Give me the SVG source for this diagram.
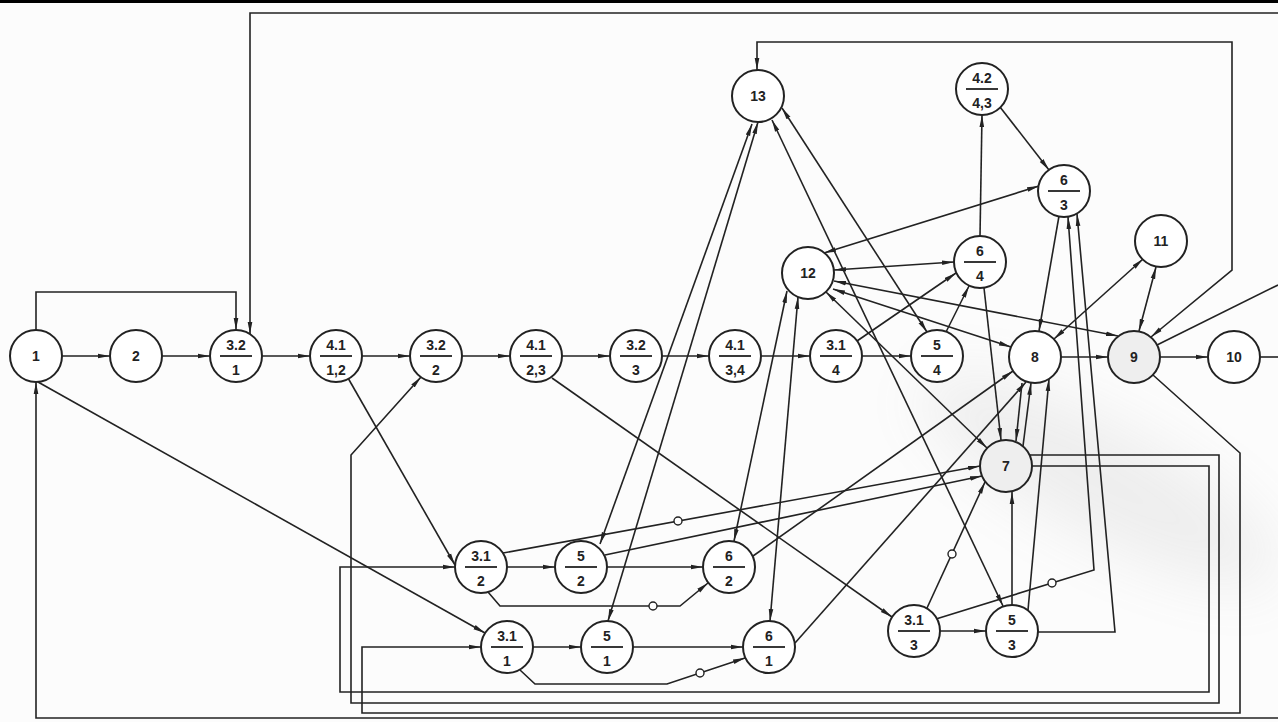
<svg xmlns="http://www.w3.org/2000/svg" width="1278" height="722" viewBox="0 0 1278 722">
<defs>
<marker id="a" viewBox="0 0 12 6" refX="12" refY="3" markerWidth="12" markerHeight="6" markerUnits="userSpaceOnUse" orient="auto-start-reverse"><path d="M0,0.7 L12,3 L0,5.3 z" fill="#222"/></marker>
<filter id="blur" x="-50%" y="-50%" width="200%" height="200%"><feGaussianBlur stdDeviation="30"/></filter>
</defs>
<style>
.e{fill:none;stroke:#222;stroke-width:1.6;marker-end:url(#a)}
.b{fill:none;stroke:#222;stroke-width:1.6;marker-start:url(#a);marker-end:url(#a)}
.p{fill:none;stroke:#222;stroke-width:1.6}
.o{fill:#fff;stroke:#222;stroke-width:1.4}
.n circle{fill:#fff;stroke:#222;stroke-width:2}
.n line{stroke:#222;stroke-width:1.8}
.n text{font-family:"Liberation Sans","DejaVu Sans",sans-serif;font-weight:bold;font-size:14px;fill:#222;text-anchor:middle}
</style>
<rect width="1278" height="722" fill="#fcfcfc"/>
<rect x="0" y="0" width="1278" height="3" fill="#000"/>
<g id="shading" opacity="0.12">
<ellipse cx="1100" cy="480" rx="200" ry="55" transform="rotate(28 1100 480)" fill="#888" filter="url(#blur)"/>
</g>
<g id="connectors">
<path class="e" d="M36,330 V292 H236 V330"/>
<path class="e" d="M1278,13 H250 V334"/>
<path class="e" d="M1278,718 H36 V382"/>
<line class="e" x1="62" y1="356" x2="110" y2="356"/>
<line class="e" x1="162" y1="356" x2="210" y2="356"/>
<line class="e" x1="262" y1="356" x2="310" y2="356"/>
<line class="e" x1="362" y1="356" x2="410" y2="356"/>
<line class="e" x1="462" y1="356" x2="510" y2="356"/>
<line class="e" x1="562" y1="356" x2="610" y2="356"/>
<line class="e" x1="662" y1="356" x2="709" y2="356"/>
<line class="e" x1="761" y1="356" x2="810" y2="356"/>
<line class="e" x1="862" y1="356" x2="911" y2="356"/>
<line class="e" x1="1061" y1="357" x2="1108" y2="357"/>
<line class="e" x1="1160" y1="357" x2="1208" y2="357"/>
<line class="p" x1="1260" y1="357" x2="1278" y2="357"/>
<line class="e" x1="38" y1="382" x2="485" y2="633"/>
<line class="e" x1="348" y1="378" x2="455" y2="565"/>
<line class="e" x1="552" y1="378" x2="892" y2="617"/>
<line class="e" x1="507" y1="567" x2="555" y2="567"/>
<line class="e" x1="607" y1="567" x2="703" y2="567"/>
<line class="e" x1="533" y1="647" x2="581" y2="647"/>
<line class="e" x1="633" y1="647" x2="743" y2="647"/>
<line class="e" x1="940" y1="631" x2="986" y2="631"/>
<path class="e" d="M488,592 L500,606 H680 L708,583"/>
<path class="e" d="M520,670 L535,684 H667 L745,658"/>
<line class="e" x1="503" y1="553" x2="980" y2="466"/>
<line class="e" x1="605" y1="555" x2="982" y2="476"/>
<line class="b" x1="600" y1="544" x2="752" y2="124"/>
<line class="b" x1="608" y1="621" x2="758" y2="122"/>
<line class="b" x1="734" y1="541" x2="787" y2="291"/>
<line class="b" x1="770" y1="621" x2="798" y2="297"/>
<line class="b" x1="782" y1="108" x2="927" y2="332"/>
<line class="b" x1="772" y1="120" x2="1003" y2="606"/>
<line class="b" x1="824" y1="253" x2="1039" y2="186"/>
<line class="b" x1="834" y1="270" x2="954" y2="262"/>
<line class="b" x1="834" y1="281" x2="1118" y2="336"/>
<line class="b" x1="833" y1="289" x2="1011" y2="347"/>
<line class="b" x1="826" y1="292" x2="987" y2="448"/>
<line class="e" x1="857" y1="341" x2="956" y2="273"/>
<line class="e" x1="946" y1="332" x2="969" y2="286"/>
<line class="e" x1="984" y1="288" x2="1001" y2="440"/>
<line class="e" x1="980" y1="236" x2="982" y2="115"/>
<line class="e" x1="1000" y1="107" x2="1049" y2="170"/>
<line class="e" x1="1059" y1="216" x2="1039" y2="331"/>
<path class="e" d="M936,619 L1094,570 L1068,217"/>
<path class="e" d="M1038,632 H1115 L1077,214"/>
<line class="b" x1="1054" y1="339" x2="1143" y2="259"/>
<line class="b" x1="1139" y1="331" x2="1156" y2="267"/>
<line class="p" x1="1157" y1="345" x2="1278" y2="285"/>
<path class="b" d="M1151,337 L1232,270 V42 H757 V70"/>
<path class="e" d="M1153,375 L1240,453 V713 H362 V647 H481"/>
<path class="e" d="M1030,455 H1219 V703 H351 V455 L421,377"/>
<path class="e" d="M1032,466 H1209 V692 H340 V567 H455"/>
<line class="e" x1="753" y1="556" x2="1013" y2="371"/>
<line class="e" x1="795" y1="643" x2="1026" y2="382"/>
<line class="e" x1="1022" y1="383" x2="1016" y2="441"/>
<line class="e" x1="1023" y1="446" x2="1031" y2="383"/>
<line class="e" x1="1028" y1="610" x2="1049" y2="379"/>
<line class="e" x1="927" y1="608" x2="985" y2="482"/>
<line class="e" x1="1012" y1="605" x2="1012" y2="492"/>
<circle class="o" cx="653" cy="606" r="4"/>
<circle class="o" cx="700" cy="673" r="4"/>
<circle class="o" cx="678" cy="521" r="4"/>
<circle class="o" cx="1052" cy="583" r="4"/>
<circle class="o" cx="952" cy="554" r="4"/>
</g>
<g id="n1" class="n"><circle cx="36" cy="356" r="26"/><text x="36" y="361">1</text></g>
<g id="n2" class="n"><circle cx="136" cy="356" r="26"/><text x="136" y="361">2</text></g>
<g id="n3-2-1" class="n"><circle cx="236" cy="356" r="26"/><text x="236" y="350">3.2</text><line x1="220" y1="356" x2="252" y2="356"/><text x="236" y="375">1</text></g>
<g id="n4-1-12" class="n"><circle cx="336" cy="356" r="26"/><text x="336" y="350">4.1</text><line x1="320" y1="356" x2="352" y2="356"/><text x="336" y="375">1,2</text></g>
<g id="n3-2-2" class="n"><circle cx="436" cy="356" r="26"/><text x="436" y="350">3.2</text><line x1="420" y1="356" x2="452" y2="356"/><text x="436" y="375">2</text></g>
<g id="n4-1-23" class="n"><circle cx="536" cy="356" r="26"/><text x="536" y="350">4.1</text><line x1="520" y1="356" x2="552" y2="356"/><text x="536" y="375">2,3</text></g>
<g id="n3-2-3" class="n"><circle cx="636" cy="356" r="26"/><text x="636" y="350">3.2</text><line x1="620" y1="356" x2="652" y2="356"/><text x="636" y="375">3</text></g>
<g id="n4-1-34" class="n"><circle cx="735" cy="356" r="26"/><text x="735" y="350">4.1</text><line x1="719" y1="356" x2="751" y2="356"/><text x="735" y="375">3,4</text></g>
<g id="n3-1-4" class="n"><circle cx="836" cy="356" r="26"/><text x="836" y="350">3.1</text><line x1="820" y1="356" x2="852" y2="356"/><text x="836" y="375">4</text></g>
<g id="n5-4" class="n"><circle cx="937" cy="356" r="26"/><text x="937" y="350">5</text><line x1="921" y1="356" x2="953" y2="356"/><text x="937" y="375">4</text></g>
<g id="n8" class="n"><circle cx="1035" cy="357" r="26"/><text x="1035" y="362">8</text></g>
<g id="n9" class="n"><circle cx="1134" cy="357" r="26" style="fill:#eee"/><text x="1134" y="362">9</text></g>
<g id="n10" class="n"><circle cx="1234" cy="357" r="26"/><text x="1234" y="362">10</text></g>
<g id="n13" class="n"><circle cx="758" cy="96" r="26"/><text x="758" y="101">13</text></g>
<g id="n12" class="n"><circle cx="808" cy="273" r="26"/><text x="808" y="278">12</text></g>
<g id="n11" class="n"><circle cx="1161" cy="241" r="26"/><text x="1161" y="246">11</text></g>
<g id="n6-4" class="n"><circle cx="980" cy="262" r="26"/><text x="980" y="256">6</text><line x1="964" y1="262" x2="996" y2="262"/><text x="980" y="281">4</text></g>
<g id="n6-3" class="n"><circle cx="1064" cy="191" r="26"/><text x="1064" y="185">6</text><line x1="1048" y1="191" x2="1080" y2="191"/><text x="1064" y="210">3</text></g>
<g id="n4-2-43" class="n"><circle cx="982" cy="89" r="26"/><text x="982" y="83">4.2</text><line x1="966" y1="89" x2="998" y2="89"/><text x="982" y="108">4,3</text></g>
<g id="n7" class="n"><circle cx="1006" cy="466" r="26" style="fill:#eee"/><text x="1006" y="471">7</text></g>
<g id="n3-1-2" class="n"><circle cx="481" cy="567" r="26"/><text x="481" y="561">3.1</text><line x1="465" y1="567" x2="497" y2="567"/><text x="481" y="586">2</text></g>
<g id="n5-2" class="n"><circle cx="581" cy="567" r="26"/><text x="581" y="561">5</text><line x1="565" y1="567" x2="597" y2="567"/><text x="581" y="586">2</text></g>
<g id="n6-2" class="n"><circle cx="729" cy="567" r="26"/><text x="729" y="561">6</text><line x1="713" y1="567" x2="745" y2="567"/><text x="729" y="586">2</text></g>
<g id="n3-1-1" class="n"><circle cx="507" cy="647" r="26"/><text x="507" y="641">3.1</text><line x1="491" y1="647" x2="523" y2="647"/><text x="507" y="666">1</text></g>
<g id="n5-1" class="n"><circle cx="607" cy="647" r="26"/><text x="607" y="641">5</text><line x1="591" y1="647" x2="623" y2="647"/><text x="607" y="666">1</text></g>
<g id="n6-1" class="n"><circle cx="769" cy="647" r="26"/><text x="769" y="641">6</text><line x1="753" y1="647" x2="785" y2="647"/><text x="769" y="666">1</text></g>
<g id="n3-1-3" class="n"><circle cx="914" cy="631" r="26"/><text x="914" y="625">3.1</text><line x1="898" y1="631" x2="930" y2="631"/><text x="914" y="650">3</text></g>
<g id="n5-3" class="n"><circle cx="1012" cy="631" r="26"/><text x="1012" y="625">5</text><line x1="996" y1="631" x2="1028" y2="631"/><text x="1012" y="650">3</text></g>
</svg>
